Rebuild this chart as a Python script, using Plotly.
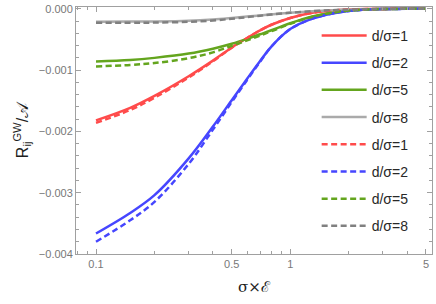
import plotly.graph_objects as go

x = [0.1, 0.15, 0.2, 0.3, 0.4, 0.5, 0.6, 0.7, 0.8, 1.0, 1.3, 1.65, 2.0, 2.5, 3.0, 4.0, 5.0]

# values in units of 1e-3
red_solid = [-1.82, -1.615, -1.42, -1.10, -0.845, -0.63, -0.475, -0.35, -0.26, -0.15, -0.065, -0.028, -0.012, -0.004, -0.001, 0, 0]
blue_solid = [-3.665, -3.33, -3.04, -2.44, -1.92, -1.49, -1.14, -0.85, -0.615, -0.33, -0.16, -0.075, -0.035, -0.012, -0.004, 0, 0]
green_solid = [-0.86, -0.835, -0.80, -0.73, -0.65, -0.57, -0.49, -0.415, -0.35, -0.235, -0.125, -0.06, -0.028, -0.01, -0.003, 0, 0]
gray_solid = [-0.21, -0.208, -0.205, -0.193, -0.172, -0.148, -0.126, -0.107, -0.09, -0.063, -0.038, -0.022, -0.013, -0.006, -0.002, 0, 0]

red_dashed = [-1.86, -1.65, -1.45, -1.12, -0.855, -0.635, -0.475, -0.35, -0.26, -0.15, -0.065, -0.028, -0.012, -0.004, -0.001, 0, 0]
blue_dashed = [-3.80, -3.45, -3.15, -2.53, -1.97, -1.52, -1.16, -0.86, -0.615, -0.33, -0.16, -0.075, -0.035, -0.012, -0.004, 0, 0]
green_dashed = [-0.94, -0.915, -0.885, -0.805, -0.71, -0.605, -0.515, -0.435, -0.365, -0.245, -0.128, -0.061, -0.028, -0.01, -0.003, 0, 0]
gray_dashed = [-0.228, -0.227, -0.224, -0.212, -0.19, -0.162, -0.135, -0.112, -0.093, -0.064, -0.038, -0.022, -0.013, -0.006, -0.002, 0, 0]

labels = ["d/σ=1", "d/σ=2", "d/σ=5", "d/σ=8"]
solid_colors = ["rgb(255,75,75)", "rgb(70,70,255)", "rgb(100,165,30)", "rgb(170,170,170)"]
dashed_colors = ["rgb(255,75,75)", "rgb(70,70,255)", "rgb(100,165,30)", "rgb(128,128,128)"]

x_ticks = [0.1, 0.5, 1, 5]
x_tick_text = ["0.1", "0.5", "1", "5"]
x_minor = [0.08, 0.09, 0.2, 0.3, 0.4, 0.6, 0.7, 0.8, 0.9, 2, 3, 4]
y_ticks = [-0.004, -0.003, -0.002, -0.001, 0.0]

fig = go.Figure()
solids = [red_solid, blue_solid, green_solid, gray_solid]
dashes = [red_dashed, blue_dashed, green_dashed, gray_dashed]
for i, (vals, lab, col) in enumerate(zip(solids, labels, solid_colors)):
    fig.add_trace(go.Scatter(x=x, y=[v * 1e-3 for v in vals], mode="lines", name=lab,
                             line=dict(color=col, width=2.5, shape="spline", smoothing=1.0),
                             legendgroup=f"s{i}"))
for i, (vals, lab, col) in enumerate(zip(dashes, labels, dashed_colors)):
    fig.add_trace(go.Scatter(x=x, y=[v * 1e-3 for v in vals], mode="lines", name=lab,
                             line=dict(color=col, width=2.5, shape="spline", smoothing=1.0, dash="6px,3.5px"),
                             legendgroup=f"d{i}"))

axis_col = "rgb(160,160,160)"
tick_font = dict(family="Liberation Sans, Arial, sans-serif", size=11, color="rgb(120,120,120)")

fig.update_layout(
    width=436, height=304,
    margin=dict(l=76, r=3, t=5, b=50),
    paper_bgcolor="white", plot_bgcolor="white",
    showlegend=True,
    legend=dict(x=0.676, y=0.948, xanchor="left", yanchor="top", itemwidth=45,
                bgcolor="rgba(0,0,0,0)", tracegroupgap=6,
                font=dict(family="Liberation Sans, Arial, sans-serif", size=14, color="rgb(40,40,40)")),
    xaxis=dict(type="log", range=[-1.103, 0.730], tickvals=x_ticks, ticktext=x_tick_text,
               ticks="inside", ticklen=5, tickcolor=axis_col, mirror="allticks",
               showline=True, linecolor=axis_col, linewidth=1, showgrid=False, zeroline=False,
               tickfont=tick_font, ticklabeloverflow="allow",
               minor=dict(tickvals=x_minor, ticks="inside", ticklen=3, tickcolor=axis_col, showgrid=False),
               title=dict(text="σ×ℰ", font=dict(family="DejaVu Serif, serif", size=15, color="rgb(30,30,30)"), standoff=12)),
    yaxis=dict(range=[-0.004, 0.00003], tickvals=y_ticks, tickformat=".3f",
               ticks="inside", ticklen=5, tickcolor=axis_col, mirror="allticks",
               showline=True, linecolor=axis_col, linewidth=1, showgrid=False, zeroline=False,
               tickfont=tick_font,
               minor=dict(dtick=0.0002, ticks="inside", ticklen=3, tickcolor=axis_col, showgrid=False),
               title=dict(text="R<sub>ij</sub><sup>GW</sup>/𝒜", font=dict(family="Liberation Sans, Arial, sans-serif", size=16, color="rgb(30,30,30)"), standoff=6)),
)

fig.write_html("out.html", config={"displayModeBar": False},
               post_script="document.body.style.margin='0';")
